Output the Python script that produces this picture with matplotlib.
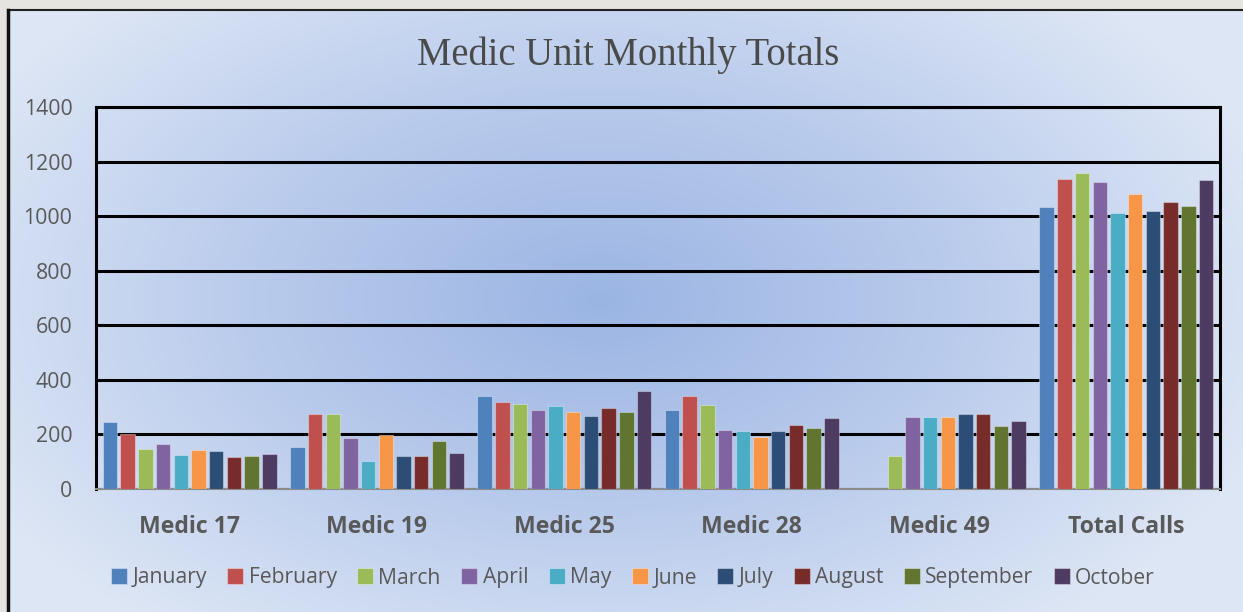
import numpy as np
import matplotlib
matplotlib.use("Agg")
import matplotlib.pyplot as plt
from matplotlib.colors import LinearSegmentedColormap

# Data
units = ["Medic 17", "Medic 19", "Medic 25", "Medic 28", "Medic 49", "Total Calls"]
months = ["January", "February", "March", "April", "May", "June",
          "July", "August", "September", "October"]
colors = ["#4F81BD", "#C0504D", "#9BBB59", "#8064A2", "#4BACC6", "#F79646",
          "#2C4D75", "#772C2A", "#5F7530", "#4D3B62"]

january = [247, 153, 341, 291, 0, 1035]
february = [203, 274, 318, 341, 0, 1135]
march = [145, 274, 310, 308, 120, 1158]
april = [166, 187, 288, 215, 263, 1124]
may = [124, 101, 304, 211, 265, 1010]
june = [144, 198, 282, 191, 263, 1082]
july = [138, 122, 266, 213, 275, 1019]
august = [118, 122, 296, 233, 275, 1051]
september = [120, 177, 282, 222, 231, 1036]
october = [129, 131, 360, 259, 248, 1131]
series = [january, february, march, april, may, june,
          july, august, september, october]

W, H = 1243, 612
fig = plt.figure(figsize=(W / 100, H / 100), dpi=100)

# background: radial blue gradient inside a frame
bg = fig.add_axes([0, 0, 1, 1])
bg.set_xlim(0, W)
bg.set_ylim(H, 0)
bg.axis("off")
yy, xx = np.mgrid[0:H, 0:W]
r = np.sqrt(((xx - 600) / 700.0) ** 2 + ((yy - 300) / 420.0) ** 2)
r = np.clip(r, 0, 1)
cmap = LinearSegmentedColormap.from_list("bg", ["#9bb5e3", "#b9cbec", "#dde6f5"])
bg.imshow(r, cmap=cmap, extent=(0, W, H, 0), aspect="auto", zorder=0)
bg.fill_between([0, W], 0, 9, color="#e6e4e1", zorder=1)
bg.fill_between([0, 7], 0, H, color="#e6e4e1", zorder=1)
bg.plot([8, W], [10, 10], color="#222222", lw=1.5, zorder=2)
bg.plot([8, 8], [10, H], color="#111111", lw=2.5, zorder=2)

# plot area in pixels: x 96..1220, y 107..489
ax = fig.add_axes([96 / W, 1 - 489 / H, (1220 - 96) / W, (489 - 107) / H])
ax.patch.set_alpha(0)

x = np.arange(len(units))
pitch = 0.0945
width = 0.077
for i, (name, vals, c) in enumerate(zip(months, series, colors)):
    offs = (i - 4.5) * pitch
    ax.bar(x + offs, vals, width, color=c, label=name,
           edgecolor=(1, 1, 1, 0.35), linewidth=0.8, zorder=3)

ax.set_xlim(-0.5, len(units) - 0.5)
ax.set_ylim(0, 1400)
ax.set_yticks(range(0, 1401, 200))
ax.yaxis.grid(True, color="black", linewidth=2.2, zorder=1)
ax.set_axisbelow(True)
ax.tick_params(axis="y", length=0, pad=17, labelsize=15.3, labelcolor="#595959")
ax.tick_params(axis="x", length=0, pad=19, labelsize=16.6, labelcolor="#595959")
ax.set_xticks(x)
ax.set_xticklabels(units, fontweight="bold")
for lab in ax.get_yticklabels() + ax.get_xticklabels():
    lab.set_fontfamily("Open Sans")
for s in ["top", "left", "right"]:
    ax.spines[s].set_color("black")
    ax.spines[s].set_linewidth(2.2)
ax.spines["bottom"].set_color("#8a8a8a")
ax.spines["bottom"].set_linewidth(1.5)

fig.text(628 / W, 1 - 55 / H, "Medic Unit Monthly Totals", ha="center", va="center",
         fontsize=27.8, color="#4a4a4a", family="Liberation Serif")

leg = fig.legend(loc="center", bbox_to_anchor=(633 / W, 1 - 578 / H), ncol=10,
                 frameon=False, handlelength=0.75, handleheight=0.75,
                 handletextpad=0.25, columnspacing=0.98,
                 prop={"family": "Open Sans", "size": 15.2})
for t in leg.get_texts():
    t.set_color("#595959")

fig.savefig("out.png", dpi=100)
